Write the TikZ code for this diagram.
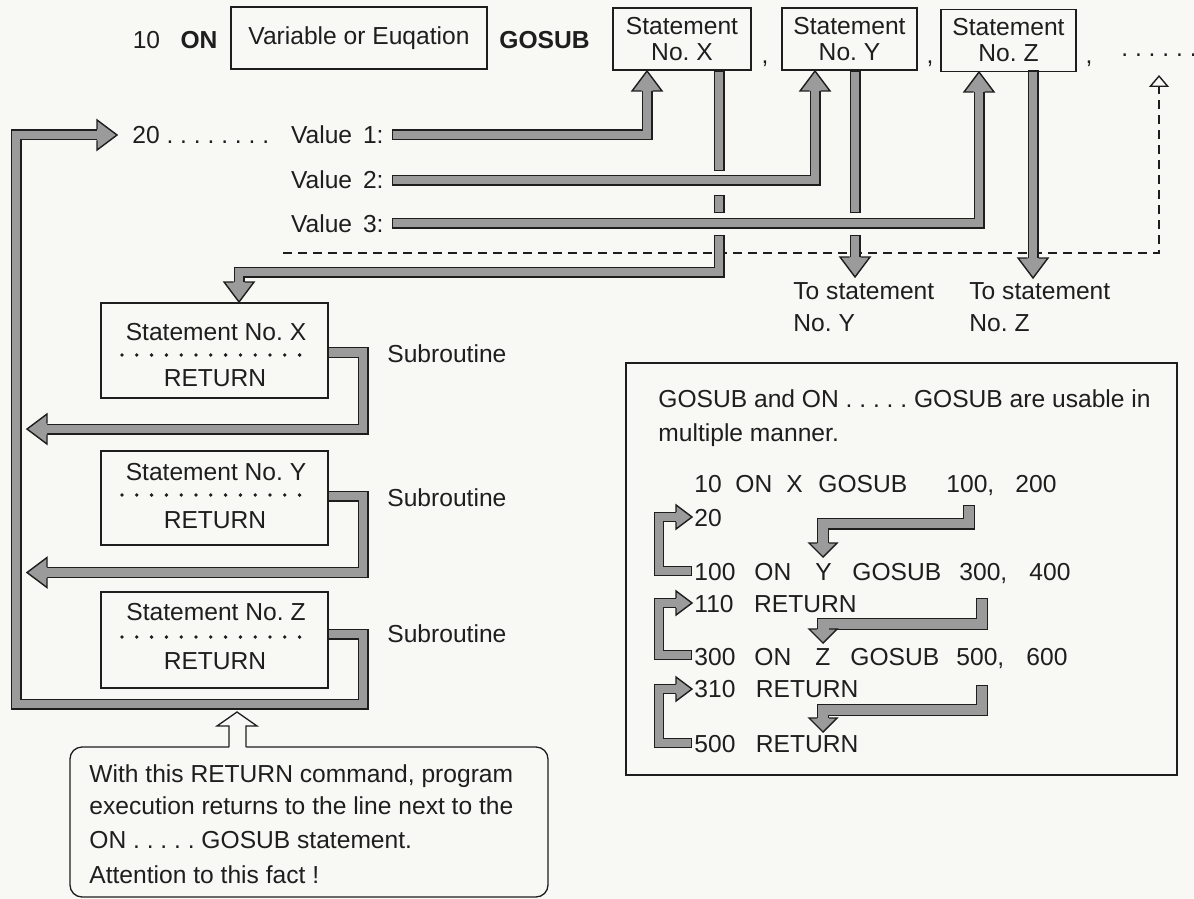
\documentclass[tikz,border=0pt]{standalone}
\usepackage{fontspec}
\setmainfont{Liberation Sans}
\usetikzlibrary{arrows.meta}
\definecolor{ink}{RGB}{30,30,30}
\definecolor{bandgray}{RGB}{155,155,155}
\definecolor{paper}{RGB}{248,248,245}
\frenchspacing

\tikzset{
  lbl/.style={inner sep=0pt, text=ink, anchor=base west},
  stbox/.style={draw=ink, line width=0.65pt, inner sep=0pt, align=center, text=ink},
  dotrow/.style={draw=ink, line width=1.9pt, line cap=round, dash pattern=on 0pt off 7.4pt},
  bandedge/.style={line width=\bo, draw=ink, line join=miter},
  bandcore/.style={line width=\bi, draw=bandgray, line join=miter, shorten <=0.7pt, shorten >=0.7pt},
  headfill/.style={fill=bandgray},
  headline/.style={draw=ink, line width=0.7pt, line join=miter},
  dashline/.style={draw=ink, line width=0.7pt, dash pattern=on 4.5pt off 3pt},
}
% grey band arrow: outline first, then the grey core
\newcommand{\band}[1]{\draw[bandedge] #1; \draw[bandcore] #1;}
% arrow head: tip, direction (0 right, 90 up, 180 left, -90 down)
\newcommand{\bhead}[2]{%
  \begin{scope}[shift={#1}, rotate=#2]
    \fill[headfill] (0,0) -- (-\hl,\hw) -- (-\hl,-\hw) -- cycle;
    \draw[headline] (-\hl,\bh) -- (-\hl,\hw) -- (0,0) -- (-\hl,-\hw) -- (-\hl,-\bh);
  \end{scope}}

\begin{document}
\begin{tikzpicture}[x=0.5pt, y=-0.5pt, font=\fontsize{12.3}{15}\selectfont]
\useasboundingbox (0,0) rectangle (1194,899);
\fill[paper] (0,0) rectangle (1194,899);

% top line: 10 ON ... GOSUB X, Y, Z
\node[lbl, anchor=center] (ten) at (146.5,40) {10};
\node[lbl, anchor=center] (onkw) at (199,40) {\textbf{ON}};
\node[stbox, minimum width=128pt, minimum height=31pt] (varbox) at (359,38) {Variable or Euqation};
\node[lbl, anchor=center] (gosubkw) at (544.5,40) {\textbf{GOSUB}};
\node[stbox, minimum width=69pt, minimum height=31pt] (nox) at (682,39) {Statement\\[-2pt]No.\ X};
\node[lbl, anchor=base] (comma1) at (765,64) {,};
\node[stbox, minimum width=67.5pt, minimum height=31pt] (noy) at (849.5,39) {Statement\\[-2pt]No.\ Y};
\node[lbl, anchor=base] (comma2) at (930,64) {,};
\node[stbox, minimum width=67.5pt, minimum height=31pt] (noz) at (1008.5,40.5) {Statement\\[-2pt]No.\ Z};
\node[lbl, anchor=base] (comma3) at (1089,64) {,};
\node[lbl] (more) at (1121,57) {. . . . . .};

% line 20 and the values
\node[lbl] (twenty) at (132,144) {20 . . . . . . . .};
\node[lbl, anchor=base east] (val1) at (384,144) {Value\ \,1:};
\node[lbl, anchor=base east] (val2) at (384,189) {Value\ \,2:};
\node[lbl, anchor=base east] (val3) at (384,232) {Value\ \,3:};
\node[lbl] (toy1) at (793,299) {To statement};
\node[lbl] (toy2) at (793,331) {No.\ Y};
\node[lbl] (toz1) at (969,299) {To statement};
\node[lbl] (toz2) at (969,331) {No.\ Z};

% subroutines
\foreach \s/\yc/\h/\yt/\yd/\yr in {X/350.5/47.5/340/355/386, Y/498/47/480/495/528, Z/640/48/620/637/669}{
  \node[stbox, minimum width=113.5pt, minimum height=\h pt] (st\s) at (214.5,\yc) {};
  \node[lbl, anchor=base] (st\s-head) at (216,\yt) {Statement No.\ \s};
  \draw[dotrow] (122,\yd) -- (314,\yd);
  \node[lbl, anchor=base] (st\s-ret) at (215,\yr) {RETURN};
}
\node[lbl] (subx) at (387,362) {Subroutine};
\node[lbl] (suby) at (387,506) {Subroutine};
\node[lbl] (subz) at (387,642) {Subroutine};

% dashed way to further statements
\draw[dashline, -{Triangle[open, length=6pt, width=10pt]}] (283,253) -- (1159,253) -- (1159,75);

% main band arrows
\def\bo{5.5pt}\def\bi{4.1pt}\def\hl{20}\def\hw{15}\def\bh{5.5}
\band{(392,135) -- (647,135) -- (647,86)}
\bhead{(647,71)}{90}
\band{(392,180) -- (815,180) -- (815,86)}
\bhead{(815,71)}{90}
\band{(392,223) -- (979,223) -- (979,87)}
\bhead{(979,72)}{90}
\band{(719,70.5) -- (719,171)}
\band{(719,195) -- (719,213)}
\band{(719,235) -- (719,272) -- (239,272) -- (239,287)}
\bhead{(239,302)}{-90}
\band{(855,70.5) -- (855,213)}
\band{(855,235) -- (855,262)}
\bhead{(855,277)}{-90}
\band{(1033,70.5) -- (1033,263)}
\bhead{(1033,278)}{-90}
% returns
\band{(328,352.5) -- (363,352.5) -- (363,429) -- (42,429)}
\bhead{(27,429)}{180}
\band{(328,496) -- (363,496) -- (363,572.5) -- (42,572.5)}
\bhead{(27,572.5)}{180}
\band{(328,634) -- (363,634) -- (363,704) -- (16,704) -- (16,135) -- (102,135)}
\bhead{(117,135)}{0}

% note under the loop
\node[stbox, rounded corners=6pt, minimum width=239pt, minimum height=75pt] (note) at (309,822) {};
\fill[paper] (229,749) -- (229,726) -- (217,726) -- (237,712) -- (257,726) -- (246,726) -- (246,749) -- cycle;
\draw[headline, line width=0.65pt] (229,747) -- (229,726) -- (217,726) -- (237,712) -- (257,726) -- (246,726) -- (246,747);
\node[lbl] (note1) at (89,782) {With this RETURN command, program};
\node[lbl] (note2) at (89,814) {execution returns to the line next to the};
\node[lbl] (note3) at (89,848) {ON . . . . . GOSUB statement.};
\node[lbl] (note4) at (89,883) {Attention to this fact !};

% panel: multiple use
\node[stbox, minimum width=275.5pt, minimum height=206pt] (panel) at (901.5,569) {};
\node[lbl] (pan1) at (658,407) {GOSUB and ON . . . . . GOSUB are usable in};
\node[lbl] (pan2) at (658,441) {multiple manner.};
\foreach \x/\t [count=\i] in {694/10, 735/ON, 786/X, 818/GOSUB, 946/{100,}, 1015/200}
  \node[lbl] (ra-\i) at (\x,492) {\t};
\node[lbl] (rb) at (694,526) {20};
\foreach \x/\t [count=\i] in {694/100, 754/ON, 815/Y, 852/GOSUB, 959/{300,}, 1029/400}
  \node[lbl] (rc-\i) at (\x,580) {\t};
\node[lbl] (rd) at (694,612) {110\ \ \ RETURN};
\foreach \x/\t [count=\i] in {694/300, 754/ON, 815/Z, 850/GOSUB, 956/{500,}, 1026/600}
  \node[lbl] (re-\i) at (\x,665) {\t};
\node[lbl] (rf) at (694,697) {310\ \ \ RETURN};
\node[lbl] (rg) at (694,752) {500\ \ \ RETURN};

% panel brackets back to the next line
\def\bo{5pt}\def\bi{3.6pt}\def\hl{16}\def\hw{12}\def\bh{5}
\band{(692,571) -- (659,571) -- (659,517) -- (681,517)}
\bhead{(692,517)}{0}
\band{(692,655) -- (659,655) -- (659,603) -- (681,603)}
\bhead{(692,603)}{0}
\band{(692,743) -- (659,743) -- (659,689) -- (681,689)}
\bhead{(692,689)}{0}
% panel jumps
\def\bo{6pt}\def\bi{4.6pt}\def\hl{14}\def\hw{14}\def\bh{6}
\band{(969,505) -- (969,523.5) -- (823,523.5) -- (823,547)}
\bhead{(823,557)}{-90}
\band{(982,598) -- (982,624) -- (823,624) -- (823,633)}
\bhead{(823,643)}{-90}
\band{(982,685) -- (982,710) -- (823,710) -- (823,722)}
\bhead{(823,732)}{-90}
\end{tikzpicture}
\end{document}
